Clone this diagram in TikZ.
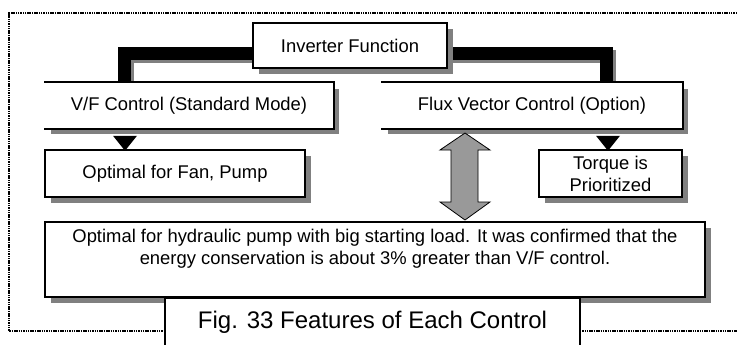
\documentclass[tikz,border=0pt]{standalone}
\usepackage{fontspec}
\setmainfont{Liberation Sans}
\usetikzlibrary{shadows,backgrounds}

\tikzset{
  box/.style={draw, line width=1.6pt, fill=white, inner sep=0pt, align=center,
    font=\fontsize{18.4pt}{22pt}\selectfont,
    drop shadow={shadow xshift=6pt, shadow yshift=-6pt, fill=gray, opacity=1}},
  openbox/.style={box, draw=none},
  capbox/.style={draw, line width=1.6pt, fill=white, inner sep=0pt,
    font=\fontsize{24pt}{28pt}\selectfont},
  link/.style={line width=13pt,
    preaction={draw=gray, line width=13pt, transform canvas={xshift=3pt, yshift=-3pt}}},
  dotframe/.style={line width=1.4pt, dash pattern=on 1.5pt off 0.8pt},
}

\begin{document}
\begin{tikzpicture}[x=1pt, y=-1pt]
  \useasboundingbox (0,0) rectangle (737,345);

  % boxes
  \node[box, minimum width=194pt, minimum height=45pt] (inv) at (350,45.5) {Inverter Function};
  \node[openbox, minimum width=288pt, minimum height=45pt] (vf) at (189,105.5) {V/F Control (Standard Mode)};
  \node[openbox, minimum width=300pt, minimum height=45pt] (flux) at (532,105.5) {Flux Vector Control (Option)};
  \draw[line width=1.6pt] (vf.north west) -- (vf.north east) -- (vf.south east) -- (vf.south west);
  \draw[line width=1.6pt] (flux.north west) -- (flux.north east) -- (flux.south east) -- (flux.south west);
  \node[box, minimum width=260pt, minimum height=47pt] (fan) at (175,173.5) {Optimal for Fan, Pump};
  \node[box, minimum width=143pt, minimum height=47pt] (torque) at (610.5,173.5) {Torque is\\Prioritized};
  \node[box, minimum width=660pt, text height=42pt, text depth=33pt] (note) at (375,259.5)
    {Optimal for hydraulic pump with big starting load. It was confirmed that the\\
     energy conservation is about 3\% greater than V/F control.};

  % arrows
  \fill ([xshift=-76pt,yshift=-7pt]vf.south) -- ([xshift=-52pt,yshift=-7pt]vf.south)
    -- ([xshift=-64pt,yshift=-22pt]vf.south) -- cycle;
  \fill ([xshift=64pt,yshift=-7pt]flux.south) -- ([xshift=88pt,yshift=-7pt]flux.south)
    -- ([xshift=76pt,yshift=-22pt]flux.south) -- cycle;
  \filldraw[fill=gray!80, line width=0.8pt] (465,133) -- (490,150) -- (478,150) -- (478,202)
    -- (490,202) -- (465,220) -- (440,202) -- (451,202) -- (451,150) -- (440,150) -- cycle;

  \begin{scope}[on background layer]
    \draw[dotframe] (737,13) -- (9,13) -- (9,331) -- (737,331);
    \draw[link] ([yshift=-8pt]inv.west) -| ([xshift=-64.5pt]vf.north);
    \draw[link] ([yshift=-8pt]inv.east) -| ([xshift=74pt]flux.north);
  \end{scope}

  % caption
  \node[capbox, minimum width=415pt, minimum height=48pt] (cap) at (372.5,322) {Fig. 33 Features of Each Control};
\end{tikzpicture}
\end{document}
